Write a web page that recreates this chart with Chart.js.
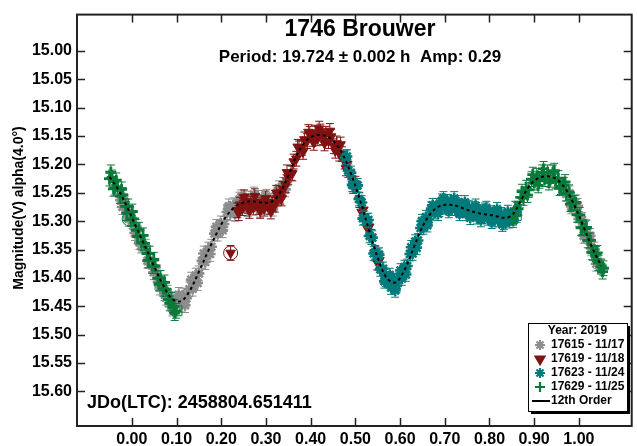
<!DOCTYPE html>
<html>
<head>
<meta charset="utf-8">
<style>
html, body { margin: 0; padding: 0; overflow: hidden; background: #fff; width: 637px; height: 446px; }
#wrap { width: 640px; height: 446px; }
</style>
<script src="https://cdn.jsdelivr.net/npm/chart.js@4.4.0/dist/chart.umd.min.js"></script>
</head>
<body>
<div id="wrap"><canvas id="lc" width="640" height="446"></canvas></div>
<script>
'use strict';

// axis ticks
var X_TICKS = [0.0, 0.1, 0.2, 0.3, 0.4, 0.5, 0.6, 0.7, 0.8, 0.9, 1.0];
var Y_TICKS = [15.00, 15.05, 15.10, 15.15, 15.20, 15.25, 15.30, 15.35, 15.40, 15.45, 15.50, 15.55, 15.60];

// session 17615 - 11/17 (grey)
var PHASE_17615 = [-0.025, -0.018, -0.011, -0.004, 0.003, 0.010, 0.017, 0.024, 0.031, 0.038, 0.045, 0.052, 0.059, 0.066, 0.073, 0.080, 0.087,
  0.094, 0.101, 0.108, 0.115, 0.122, 0.129, 0.136, 0.143, 0.150, 0.157, 0.164, 0.171, 0.178, 0.185, 0.192, 0.199, 0.206, 0.213, 0.220,
  0.227, 0.234, 0.241, 0.248, 0.255, 0.262, 0.269, 0.276, 0.283, 0.290, 0.297, 0.304, 0.311, 0.318, 0.325, 0.332, 0.339, 0.346,
  0.972, 0.979, 0.986, 0.993, 1.000, 1.007, 1.014, 1.021, 1.028, 1.035, 1.042, 1.049,
  -0.021, -0.007, 0.007, 0.021, 0.035, 0.049, 0.063, 0.077, 0.091, 0.105, 0.119, 0.133, 0.147, 0.161, 0.175, 0.189, 0.203, 0.217,
  0.231, 0.245, 0.259, 0.273, 0.287, 0.301, 0.315, 0.329, 0.343, 0.983, 0.997, 1.011, 1.025, 1.039];
var MAG_17615 = [15.263, 15.264, 15.287, 15.288, 15.308, 15.310, 15.337, 15.341, 15.345, 15.370, 15.378, 15.383, 15.407, 15.410, 15.427, 15.426, 15.443,
  15.447, 15.438, 15.447, 15.431, 15.436, 15.420, 15.419, 15.396, 15.392, 15.370, 15.372, 15.350, 15.345, 15.322, 15.322, 15.304, 15.305, 15.284, 15.286,
  15.272, 15.278, 15.262, 15.269, 15.260, 15.272, 15.261, 15.270, 15.259, 15.270, 15.263, 15.274, 15.264, 15.268, 15.251, 15.255, 15.236, 15.231,
  15.252, 15.251, 15.271, 15.275, 15.296, 15.298, 15.324, 15.327, 15.348, 15.350, 15.371, 15.380,
  15.275, 15.296, 15.321, 15.343, 15.370, 15.390, 15.417, 15.435, 15.454, 15.430, 15.448, 15.403, 15.409, 15.357, 15.358, 15.310, 15.316, 15.274,
  15.287, 15.258, 15.279, 15.253, 15.280, 15.257, 15.278, 15.242, 15.244, 15.274, 15.273, 15.326, 15.326, 15.375];

// session 17619 - 11/18 (dark red)
var PHASE_17619 = [0.221, 0.236, 0.242, 0.248, 0.254, 0.260, 0.266, 0.272, 0.278, 0.284, 0.290, 0.296, 0.302, 0.308, 0.314, 0.320, 0.326,
  0.332, 0.338, 0.344, 0.350, 0.356, 0.362, 0.368, 0.374, 0.380, 0.386, 0.392, 0.398, 0.404, 0.410, 0.416, 0.422, 0.428, 0.434, 0.440,
  0.446, 0.452, 0.458, 0.464, 0.470, 0.476, 0.482, 0.491, 0.500, 0.509, 0.518, 0.527, 0.536, 0.545, 0.554, 0.563, 0.572,
  0.239, 0.251, 0.263, 0.275, 0.287, 0.299, 0.311, 0.323, 0.335, 0.347, 0.359, 0.371, 0.383, 0.395, 0.407, 0.419, 0.431, 0.443,
  0.455, 0.467, 0.479, 0.495, 0.514, 0.531, 0.549];
var MAG_17619 = [15.356, 15.281, 15.271, 15.277, 15.265, 15.273, 15.269, 15.276, 15.267, 15.275, 15.272, 15.278, 15.268, 15.275, 15.269, 15.271, 15.260,
  15.257, 15.243, 15.237, 15.223, 15.215, 15.195, 15.190, 15.172, 15.171, 15.156, 15.159, 15.146, 15.155, 15.144, 15.154, 15.142, 15.152, 15.146, 15.159,
  15.151, 15.168, 15.163, 15.181, 15.182, 15.195, 15.199, 15.225, 15.234, 15.263, 15.280, 15.313, 15.328, 15.357, 15.369, 15.396, 15.403,
  15.286, 15.258, 15.282, 15.256, 15.282, 15.260, 15.283, 15.250, 15.260, 15.214, 15.216, 15.169, 15.178, 15.143, 15.162, 15.137, 15.163, 15.141,
  15.176, 15.165, 15.207, 15.238, 15.284, 15.310, 15.373];

// session 17623 - 11/24 (teal)
var PHASE_17623 = [0.478, 0.484, 0.490, 0.496, 0.502, 0.508, 0.514, 0.520, 0.526, 0.532, 0.538, 0.544, 0.550, 0.556, 0.562, 0.568, 0.574,
  0.580, 0.586, 0.592, 0.598, 0.604, 0.610, 0.616, 0.622, 0.628, 0.634, 0.640, 0.646, 0.652, 0.658, 0.664, 0.670, 0.676, 0.682, 0.688,
  0.694, 0.700, 0.706, 0.712, 0.718, 0.724, 0.730, 0.736, 0.742, 0.748, 0.754, 0.760, 0.766, 0.772, 0.778, 0.784, 0.790, 0.796, 0.802,
  0.808, 0.814, 0.820, 0.826, 0.832, 0.838, 0.844, 0.850, 0.856, 0.862,
  0.481, 0.493, 0.505, 0.517, 0.529, 0.541, 0.553, 0.565, 0.577, 0.589, 0.601, 0.613, 0.625, 0.637, 0.649, 0.661, 0.673, 0.685,
  0.697, 0.709, 0.721, 0.733, 0.745, 0.757, 0.769, 0.781, 0.793, 0.805, 0.817, 0.829, 0.841, 0.853];
var MAG_17623 = [15.188, 15.211, 15.215, 15.236, 15.237, 15.261, 15.267, 15.294, 15.299, 15.326, 15.329, 15.355, 15.361, 15.385, 15.384, 15.403, 15.401,
  15.417, 15.404, 15.414, 15.398, 15.401, 15.381, 15.379, 15.358, 15.357, 15.336, 15.334, 15.312, 15.311, 15.293, 15.297, 15.278, 15.284, 15.272, 15.280,
  15.264, 15.275, 15.265, 15.278, 15.268, 15.278, 15.267, 15.282, 15.274, 15.287, 15.276, 15.287, 15.278, 15.293, 15.283, 15.292, 15.280, 15.295, 15.285,
  15.298, 15.288, 15.298, 15.288, 15.303, 15.292, 15.300, 15.292, 15.291, 15.279,
  15.186, 15.236, 15.237, 15.295, 15.298, 15.357, 15.359, 15.406, 15.395, 15.422, 15.387, 15.394, 15.346, 15.347, 15.300, 15.307, 15.272, 15.287,
  15.260, 15.282, 15.260, 15.287, 15.267, 15.294, 15.273, 15.298, 15.277, 15.301, 15.279, 15.306, 15.284, 15.299];

// session 17629 - 11/25 (green)
var PHASE_17629 = [-0.050, -0.044, -0.038, -0.032, -0.026, -0.020, -0.014, -0.008, -0.002, 0.004, 0.010, 0.016, 0.022, 0.028, 0.034, 0.040,
  0.046, 0.052, 0.058, 0.064, 0.070, 0.076, 0.082, 0.088, 0.094, 0.099,
  0.852, 0.858, 0.864, 0.870, 0.876, 0.882, 0.888, 0.894, 0.900, 0.906, 0.912, 0.918, 0.924, 0.930, 0.936, 0.942, 0.948, 0.954, 0.960,
  0.966, 0.972, 0.978, 0.984, 0.990, 0.996, 1.002, 1.008, 1.014, 1.020, 1.026, 1.032, 1.038, 1.044, 1.050, 1.055,
  -0.047, -0.041, -0.035, -0.023, -0.011, 0.001, 0.013, 0.025, 0.037, 0.049, 0.061, 0.073, 0.085, 0.096,
  0.861, 0.873, 0.885, 0.897, 0.909, 0.921, 0.933, 0.945, 0.957, 0.969, 0.981, 0.993, 1.005, 1.017, 1.029, 1.041, 1.053];
var MAG_17629 = [15.225, 15.223, 15.241, 15.239, 15.256, 15.254, 15.274, 15.274, 15.296, 15.296, 15.316, 15.315, 15.338, 15.339, 15.357, 15.357,
  15.379, 15.379, 15.401, 15.400, 15.419, 15.420, 15.438, 15.439, 15.451, 15.458,
  15.294, 15.278, 15.278, 15.258, 15.259, 15.241, 15.245, 15.226, 15.232, 15.220, 15.229, 15.214, 15.226, 15.214, 15.227, 15.214, 15.230, 15.224, 15.240,
  15.236, 15.251, 15.249, 15.268, 15.268, 15.289, 15.289, 15.311, 15.313, 15.334, 15.334, 15.356, 15.358, 15.374, 15.380, 15.383,
  15.214, 15.243, 15.228, 15.244, 15.286, 15.283, 15.327, 15.325, 15.369, 15.368, 15.410, 15.408, 15.445, 15.462,
  15.289, 15.248, 15.254, 15.218, 15.237, 15.208, 15.232, 15.211, 15.242, 15.231, 15.270, 15.267, 15.312, 15.311, 15.355, 15.356, 15.389];

// open marks around a few flagged points
var MARK_PHASE = [0.221, -0.006, 0.101, 0.860];
var MARK_MAG = [15.356, 15.296, 15.458, 15.290];
var MARK_STYLE = ['circle', 'circle', 'rect', 'rect'];

// 12th order fit
var FIT_PHASE = [-0.05, -0.03, -0.01, 0.01, 0.03, 0.05, 0.07, 0.09, 0.11, 0.13, 0.15, 0.17, 0.19, 0.21, 0.23, 0.25, 0.27, 0.29, 0.31, 0.33,
  0.35, 0.37, 0.39, 0.41, 0.43, 0.45, 0.47, 0.49, 0.51, 0.53, 0.55, 0.57, 0.59, 0.61, 0.63, 0.65, 0.67, 0.69, 0.71, 0.73, 0.75, 0.77,
  0.79, 0.81, 0.83, 0.85, 0.87, 0.89, 0.91, 0.93, 0.95, 0.97, 0.99, 1.01, 1.03, 1.05];
var FIT_MAG = [15.222, 15.245, 15.276, 15.311, 15.345, 15.380, 15.413, 15.437, 15.441, 15.422, 15.389, 15.354, 15.321, 15.293, 15.275, 15.267,
  15.265, 15.267, 15.267, 15.252, 15.220, 15.182, 15.158, 15.149, 15.149, 15.158, 15.180, 15.216, 15.262, 15.314, 15.364, 15.400, 15.408,
  15.386, 15.348, 15.310, 15.285, 15.273, 15.271, 15.274, 15.280, 15.285, 15.288, 15.290, 15.294, 15.290, 15.264, 15.237, 15.224, 15.221,
  15.226, 15.243, 15.272, 15.309, 15.347, 15.379];

var SESSION_ERR = [0.013, 0.013, 0.012, 0.013];

function pts(xs, ys) {
  return xs.map(function (x, i) { return { x: x, y: ys[i] }; });
}

var FONT = '"Liberation Sans", Arial, sans-serif';
var GREY = 'rgb(140,140,140)';
var RED = 'rgb(128,18,18)';
var TEAL = 'rgb(0,122,122)';
var GREEN = 'rgb(10,122,58)';

var datasets = [
  { label: '17615 - 11/17', data: pts(PHASE_17615, MAG_17615), pointStyle: 'star', pointRadius: 5.5, borderWidth: 2.6,
    borderColor: GREY, backgroundColor: GREY, order: 5 },
  { label: '17619 - 11/18', data: pts(PHASE_17619, MAG_17619), pointStyle: 'triangle', rotation: 180, pointRadius: 5.5, borderWidth: 1,
    borderColor: RED, backgroundColor: RED, order: 4 },
  { label: '17623 - 11/24', data: pts(PHASE_17623, MAG_17623), pointStyle: 'star', pointRadius: 5.5, borderWidth: 2.6,
    borderColor: TEAL, backgroundColor: TEAL, order: 3 },
  { label: '17629 - 11/25', data: pts(PHASE_17629, MAG_17629), pointStyle: 'cross', pointRadius: 5.5, borderWidth: 2.8,
    borderColor: GREEN, backgroundColor: GREEN, order: 2 },
  { label: '12th Order', data: pts(FIT_PHASE, FIT_MAG), showLine: true, pointRadius: 0, borderWidth: 2,
    borderColor: '#000', borderDash: [3, 3], tension: 0.35, order: 0 },
  { label: 'marked', data: pts(MARK_PHASE, MARK_MAG), pointStyle: MARK_STYLE, pointRadius: 7, borderWidth: 1,
    borderColor: [RED, GREEN, GREEN, TEAL], backgroundColor: 'rgba(0,0,0,0)', order: 1 }
];

// vertical error bars with caps, drawn under each session's markers
var errorBars = {
  id: 'errorBars',
  beforeDatasetDraw: function (chart, args) {
    var i = args.index;
    if (i > 3) return;
    var ctx = chart.ctx, ys = chart.scales.y;
    var ds = chart.data.datasets[i];
    ctx.save();
    ctx.strokeStyle = ds.borderColor;
    ctx.lineWidth = 1;
    args.meta.data.forEach(function (el, k) {
      var v = ds.data[k].y;
      var y1 = ys.getPixelForValue(v - SESSION_ERR[i]);
      var y2 = ys.getPixelForValue(v + SESSION_ERR[i]);
      ctx.beginPath();
      ctx.moveTo(el.x, y1); ctx.lineTo(el.x, y2);
      ctx.moveTo(el.x - 4, y1); ctx.lineTo(el.x + 4, y1);
      ctx.moveTo(el.x - 4, y2); ctx.lineTo(el.x + 4, y2);
      ctx.stroke();
    });
    ctx.restore();
  }
};

// frame, inside ticks, texts and the boxed legend
var decor = {
  id: 'decor',
  afterDraw: function (chart) {
    var ctx = chart.ctx, a = chart.chartArea;
    var xs = chart.scales.x, ys = chart.scales.y;
    ctx.save();
    ctx.strokeStyle = '#222';
    ctx.lineWidth = 1.5;
    X_TICKS.forEach(function (v) {
      var x = Math.round(xs.getPixelForValue(v)) + 0.5;
      ctx.beginPath();
      ctx.moveTo(x, a.bottom); ctx.lineTo(x, a.bottom - 8);
      ctx.moveTo(x, a.top); ctx.lineTo(x, a.top + 8);
      ctx.stroke();
    });
    Y_TICKS.forEach(function (v) {
      var y = Math.round(ys.getPixelForValue(v)) + 0.5;
      ctx.beginPath();
      ctx.moveTo(a.left, y); ctx.lineTo(a.left + 8, y);
      ctx.moveTo(a.right, y); ctx.lineTo(a.right - 8, y);
      ctx.stroke();
    });
    ctx.lineWidth = 2;
    ctx.strokeStyle = '#222';
    ctx.strokeRect(a.left, a.top, a.right - a.left, a.bottom - a.top);

    ctx.fillStyle = '#000';
    ctx.textAlign = 'center';
    ctx.textBaseline = 'middle';
    ctx.font = 'bold 23px ' + FONT;
    ctx.fillText('1746 Brouwer', 360, 30);
    ctx.font = 'bold 17px ' + FONT;
    ctx.fillText('Period: 19.724 \u00b1 0.002 h  Amp: 0.29', 360, 57);
    ctx.textAlign = 'left';
    ctx.font = 'bold 18px ' + FONT;
    ctx.fillText('JDo(LTC): 2458804.651411', 87, 403);

    ctx.save();
    ctx.translate(19, 208);
    ctx.rotate(-Math.PI / 2);
    ctx.textAlign = 'center';
    ctx.font = 'bold 14px ' + FONT;
    ctx.fillText('Magnitude(V) alpha(4.0\u00b0)', 0, 0);
    ctx.restore();

    // legend box
    var bx = 528, by = 323, bw = 99, bh = 88;
    ctx.fillStyle = '#000';
    ctx.fillRect(bx + 3, by + 3, bw, bh);
    ctx.fillStyle = '#fff';
    ctx.fillRect(bx, by, bw, bh);
    ctx.lineWidth = 1;
    ctx.strokeStyle = '#000';
    ctx.strokeRect(bx + 0.5, by + 0.5, bw, bh);
    ctx.fillStyle = '#000';
    ctx.font = 'bold 12px ' + FONT;
    ctx.textAlign = 'center';
    ctx.fillText('Year: 2019', bx + bw / 2, by + 8);
    ctx.textAlign = 'left';
    chart.data.datasets.slice(0, 5).forEach(function (ds, i) {
      var y = by + 22 + i * 14;
      if (i < 4) {
        ctx.fillStyle = ds.backgroundColor;
        ctx.strokeStyle = ds.borderColor;
        ctx.lineWidth = 2.2;
        Chart.helpers.drawPoint(ctx, { pointStyle: ds.pointStyle, rotation: ds.rotation || 0, radius: 5,
          borderWidth: 2.2 }, bx + 12, y);
      } else {
        ctx.strokeStyle = '#000';
        ctx.lineWidth = 2;
        ctx.beginPath();
        ctx.moveTo(bx + 4, y); ctx.lineTo(bx + 22, y);
        ctx.stroke();
      }
      ctx.fillStyle = '#000';
      ctx.fillText(ds.label, bx + 23, y);
    });
    ctx.restore();
  }
};

var chart = new Chart(document.getElementById('lc'), {
  type: 'scatter',
  data: { datasets: datasets },
  options: {
    responsive: false,
    animation: false,
    layout: { padding: { top: 7, left: 0, right: 0, bottom: 0 } },
    plugins: { legend: { display: false }, tooltip: { enabled: false } },
    scales: {
      x: {
        min: -0.1227, max: 1.1182,
        afterBuildTicks: function (s) { s.ticks = X_TICKS.map(function (v) { return { value: v }; }); },
        afterFit: function (s) { s.height = 20; },
        grid: { display: false, drawTicks: false },
        border: { display: false },
        ticks: { padding: 4, color: '#000', font: { family: FONT, size: 16, weight: 'bold' },
          maxRotation: 0, callback: function (v) { return Number(v).toFixed(2); } }
      },
      y: {
        reverse: true,
        min: 14.936, max: 15.661,
        afterBuildTicks: function (s) { s.ticks = Y_TICKS.map(function (v) { return { value: v }; }); },
        afterFit: function (s) { s.width = 77; },
        grid: { display: false, drawTicks: false },
        border: { display: false },
        ticks: { padding: 5, color: '#000', font: { family: FONT, size: 16, weight: 'bold' },
          callback: function (v) { return Number(v).toFixed(2); } }
      }
    }
  },
  plugins: [errorBars, decor]
});
</script>
</body>
</html>
